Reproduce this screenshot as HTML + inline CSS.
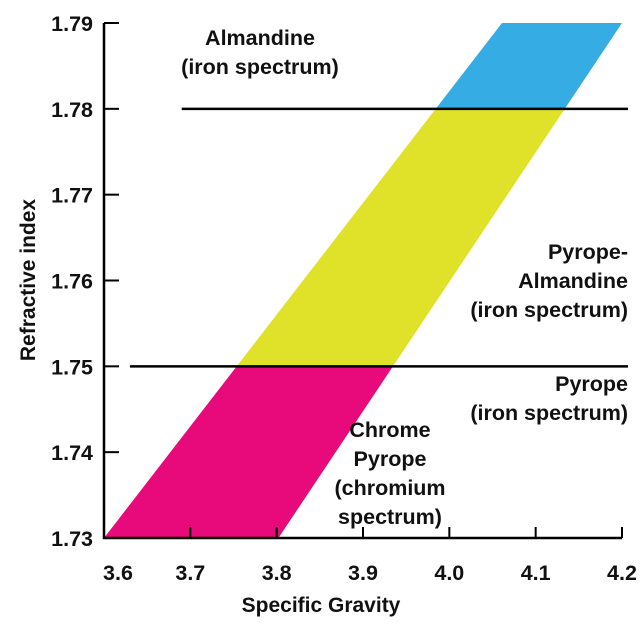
<!DOCTYPE html>
<html><head><meta charset="utf-8"><style>
html,body{margin:0;padding:0;background:#fff;}
svg text{font-family:"Liberation Sans","Noto Sans CJK KR",sans-serif;font-weight:bold;fill:#111;}
</style></head><body>
<svg id="chart" width="640" height="633" viewBox="0 0 640 633" xmlns="http://www.w3.org/2000/svg">
<g id="bands"></g>
<g id="axes"></g>
<g font-size="21.5">
<text x="260" y="45" text-anchor="middle">Almandine</text>
<text x="260" y="74" text-anchor="middle">(iron spectrum)</text>
<text x="628" y="259" text-anchor="end">Pyrope-</text>
<text x="628" y="288" text-anchor="end">Almandine</text>
<text x="628" y="317" text-anchor="end">(iron spectrum)</text>
<text x="628" y="391" text-anchor="end">Pyrope</text>
<text x="628" y="420" text-anchor="end">(iron spectrum)</text>
<text x="390" y="437" text-anchor="middle">Chrome</text>
<text x="390" y="466" text-anchor="middle">Pyrope</text>
<text x="390" y="495" text-anchor="middle">(chromium</text>
<text x="390" y="524" text-anchor="middle">spectrum)</text>
</g>
<text x="321" y="612" text-anchor="middle" font-size="21">Specific Gravity</text>
<text transform="translate(35,280) rotate(-90)" text-anchor="middle" font-size="21">Refractive index</text>
</svg>
<script>
const xTicks=[3.6,3.7,3.8,3.9,4.0,4.1,4.2];
const xTickLabels=["3.6","3.7","3.8","3.9","4.0","4.1","4.2"];
const yTicks=[1.73,1.74,1.75,1.76,1.77,1.78,1.79];
const yTickLabels=["1.73","1.74","1.75","1.76","1.77","1.78","1.79"];
const bandLeftEdge=[[3.6,1.73],[4.061,1.79]];
const bandRightEdge=[[3.802,1.73],[4.2,1.79]];
const zoneBounds=[1.73,1.75,1.78,1.79];
const zoneColors=["#e8097a","#e0e22a","#35ade4"];
const boundaryLines=[{y:1.75,x0:3.63,x1:4.2},{y:1.78,x0:3.69,x1:4.2}];
const X=v=>104+(v-3.6)/0.6*518;
const Y=v=>538-(v-1.73)/0.06*515;
const NS="http://www.w3.org/2000/svg";
function mk(t,a,p){const e=document.createElementNS(NS,t);for(const k in a)e.setAttribute(k,a[k]);p.appendChild(e);return e;}
function edgeX(edge,y){const[a,b]=edge;return a[0]+(b[0]-a[0])*(y-a[1])/(b[1]-a[1]);}
const bands=document.getElementById('bands'),axes=document.getElementById('axes');
for(let i=0;i<zoneColors.length;i++){
 const y0=zoneBounds[i],y1=zoneBounds[i+1];
 const pts=[[edgeX(bandLeftEdge,y0),y0],[edgeX(bandRightEdge,y0),y0],[edgeX(bandRightEdge,y1),y1],[edgeX(bandLeftEdge,y1),y1]];
 const p=mk('polygon',{points:pts.map(q=>X(q[0])+','+Y(q[1])).join(' '),fill:zoneColors[i]},bands);
 
 
}
boundaryLines.forEach((l,i)=>{
 const e=mk('line',{x1:X(l.x0),x2:X(l.x1)+6,y1:Y(l.y),y2:Y(l.y),stroke:'#000','stroke-width':2.5},axes);
 
 
});
const ax=mk('path',{d:`M${X(3.6)},${Y(1.79)}V${Y(1.73)}H${X(4.2)}`,fill:'none',stroke:'#000','stroke-width':2.5},axes);


xTicks.forEach((v,i)=>{
 if(i>0){const t=mk('line',{x1:X(v),x2:X(v),y1:Y(1.73),y2:Y(1.73)-11,stroke:'#000','stroke-width':2},axes);
 
 }
 const tx=mk('text',{x:X(v)+(i==0?14:0),y:580,'text-anchor':'middle','font-size':21.5},axes);
 tx.textContent=xTickLabels[i];
 
 
});
yTicks.forEach((v,i)=>{
 if(i>0){const t=mk('line',{x1:X(3.6),x2:X(3.6)+15,y1:Y(v),y2:Y(v),stroke:'#000','stroke-width':2},axes);
 
 }
 const tx=mk('text',{x:93,y:Y(v)+8,'text-anchor':'end','font-size':21.5},axes);
 tx.textContent=yTickLabels[i];
 
 
});
</script>
</body></html>
